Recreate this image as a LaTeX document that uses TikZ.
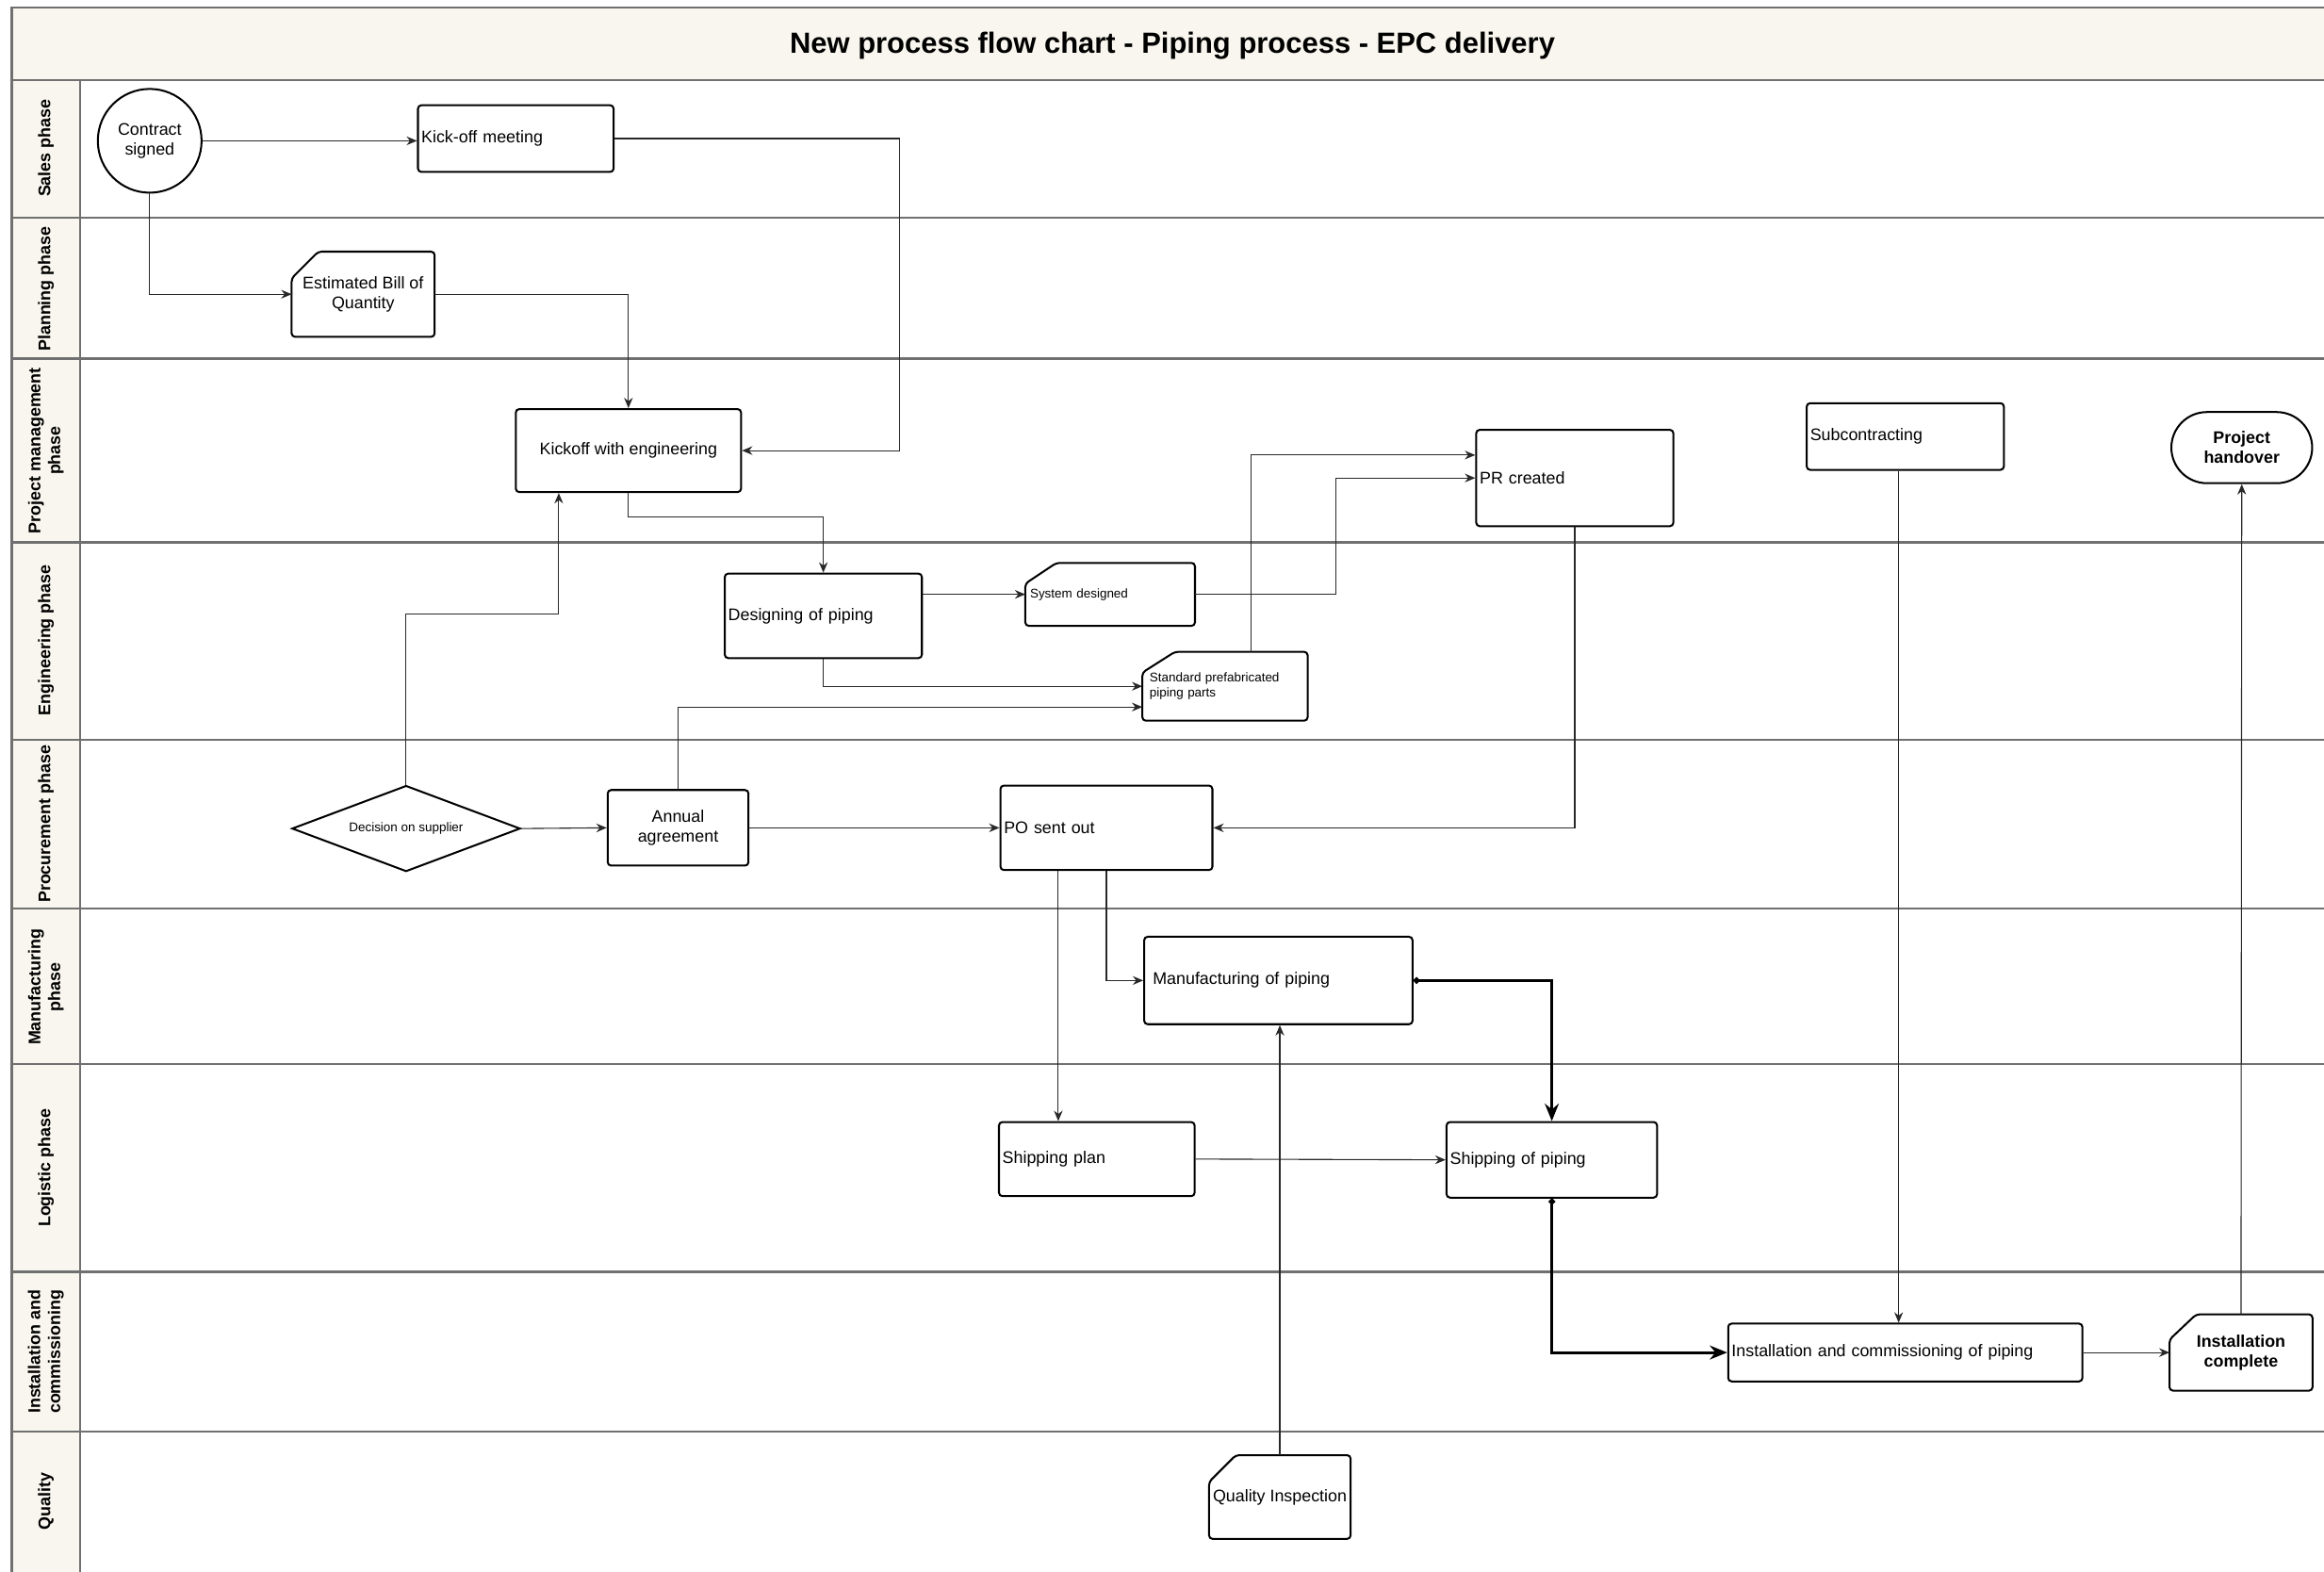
\documentclass[tikz,border=0pt]{standalone}
\usepackage{fontspec}
\setmainfont{Liberation Sans}
\usetikzlibrary{arrows.meta, shapes.geometric, positioning, calc}

\definecolor{lanefill}{RGB}{248,246,238}
\definecolor{laneline}{RGB}{112,112,112}
\definecolor{wire}{RGB}{40,40,40}

\begin{document}
\begin{tikzpicture}[x=0.03cm, y=-0.03cm,
    every node/.style={font=\fontsize{9.7}{11.5}\selectfont},
    small/.style={font=\fontsize{7.3}{8.6}\selectfont},
    heavy/.style={font=\bfseries\fontsize{9.7}{11.5}\selectfont},
    box/.style={draw, line width=1.1pt, rounded corners=2pt, inner xsep=2pt, inner ysep=0pt},
    lbox/.style={box, align=left},
    cbox/.style={box, align=center},
    card/.style={inner xsep=2pt, inner ysep=0pt},
    cardline/.style={line width=1.1pt, rounded corners=2pt},
    lane/.style={draw=laneline, line width=1.3pt},
    flow/.style={draw=wire, line width=0.6pt, -{Stealth[length=6pt, width=5pt]}},
    mainflow/.style={draw=black, line width=1.7pt, {Circle[length=3.5pt]}-{Stealth[length=10pt, width=8pt]}}
  ]
  \useasboundingbox (0,0) rectangle (1568,1060);
  \clip (0,0) rectangle (1568,1060);

  % pool, header and lanes
  \fill[lanefill] (8,5) rectangle (1575,54);
  \fill[lanefill] (8,54) rectangle (54,1063);
  \foreach \y in {54,147,242,366,499,613,718,858,966}
    \draw[lane] (8,\y) -- (1575,\y);
  \draw[lane] (54,54) -- (54,1063);
  \draw[lane] (8,5) rectangle (1575,1063);

  \node[font=\bfseries\fontsize{16.8}{20}\selectfont] (title) at (791,31) {New process flow chart - Piping process - EPC delivery};
  \foreach \y/\lbl in {100/Sales phase, 195/Planning phase, 304/{Project management\\phase}, 432/Engineering phase, 556/Procurement phase, 666/{Manufacturing\\phase}, 788/Logistic phase, 912/{Installation and\\commissioning}, 1013/Quality}
    \node[heavy, rotate=90, align=center] (lane\y) at (31,\y) {\lbl};

  % sales
  \node[circle, draw, line width=1.1pt, minimum size=2.1cm, align=center, inner sep=0pt] (cs) at (101,95) {Contract\\signed};
  \node[lbox, minimum width=3.96cm, minimum height=1.35cm, text width=3.82cm] (kom) at (348,93.5) {Kick-off meeting};

  % planning
  \node[card, minimum width=2.88cm, minimum height=1.71cm, align=center] (boq) at (245,198.5) {Estimated Bill of\\Quantity};

  % project management
  \node[cbox, minimum width=4.56cm, minimum height=1.68cm] (kwe) at (424,304) {Kickoff with engineering};
  \node[lbox, minimum width=3.99cm, minimum height=1.95cm, text width=3.85cm] (prc) at (1062.5,322.5) {PR created};
  \node[lbox, minimum width=3.99cm, minimum height=1.35cm, text width=3.85cm] (sub) at (1285.5,294.5) {Subcontracting};
  \node[box, heavy, rounded corners=0.72cm, minimum width=2.85cm, minimum height=1.44cm, align=center] (ph) at (1512.5,302) {Project\\handover};

  % engineering
  \node[lbox, minimum width=3.99cm, minimum height=1.71cm, text width=3.85cm] (dop) at (555.5,415.5) {Designing of piping};
  \node[card, small, inner xsep=2.5pt, minimum width=3.42cm, minimum height=1.26cm, text width=3.24cm, align=left] (sd) at (749,401) {System designed};
  \node[card, small, inner xsep=4pt, minimum width=3.33cm, minimum height=1.38cm, text width=3.05cm, align=left] (spp) at (826.5,463) {Standard prefabricated\\piping parts};

  % procurement
  \node[diamond, draw, line width=1.1pt, small, minimum width=4.62cm, minimum height=1.74cm, inner sep=0pt, shape aspect=2.65] (dos) at (274,559) {Decision on supplier};
  \node[cbox, minimum width=2.85cm, minimum height=1.53cm] (aa) at (457.5,558.5) {Annual\\agreement};
  \node[lbox, minimum width=4.29cm, minimum height=1.71cm, text width=4.15cm] (pos) at (746.5,558.5) {PO sent out};

  % manufacturing
  \node[lbox, inner xsep=5pt, minimum width=5.43cm, minimum height=1.77cm, text width=5.08cm] (mop) at (862.5,661.5) {Manufacturing of piping};

  % logistic
  \node[lbox, minimum width=3.96cm, minimum height=1.5cm, text width=3.82cm] (sp) at (740,782) {Shipping plan};
  \node[lbox, minimum width=4.26cm, minimum height=1.53cm, text width=4.12cm] (shp) at (1047,782.5) {Shipping of piping};

  % installation and commissioning
  \node[lbox, minimum width=7.17cm, minimum height=1.17cm, text width=7.03cm] (icp) at (1285.5,912.5) {Installation and commissioning of piping};
  \node[card, heavy, minimum width=2.88cm, minimum height=1.53cm, align=center] (ic) at (1512,912.5) {Installation\\complete};

  % quality
  \node[card, inner xsep=0.5pt, minimum width=2.85cm, minimum height=1.68cm] (qi) at (863.5,1010) {Quality Inspection};

  % card outlines with cut corner
  \foreach \n/\cx/\cy in {boq/18/18, sd/21/14, spp/22/14, ic/18/17, qi/18/18}
    \draw[cardline] ($(\n.north west)+(\cx,0)$) -- (\n.north east) -- (\n.south east) -- (\n.south west) -- ($(\n.north west)+(0,\cy)$) -- cycle;

  % connectors
  \coordinate (kwe1) at ($(kwe.south)+(-47,0)$);
  \coordinate (spp1) at ($(spp.west)+(0,14)$);
  \coordinate (spp2) at ($(spp.north)+(17.5,0)$);
  \coordinate (prc1) at ($(prc.west)+(0,-15.5)$);
  \coordinate (pos1) at ($(pos.south)+(-32.5,0)$);
  \coordinate (sub1) at ($(sub.south)+(-4.5,0)$);

  \draw[flow] (cs.east) -- (cs.east -| kom.west);
  \draw[flow] (cs.south) |- (boq.west);
  \draw[flow] (kom.east) -- ++(192,0) |- (kwe.east);
  \draw[flow] (boq.east) -| (kwe.north);
  \draw[flow] (kwe.south) -- ++(0,16) -| (dop.north);
  \draw[flow] (dos.north) -- ++(0,-115) -| (kwe1);
  \draw[flow] (dos.east) -- (aa.west);
  \draw[flow] (aa.north) |- (spp1);
  \draw[flow] (sd.west -| dop.east) -- (sd.west);
  \draw[flow] (dop.south) |- (spp.west);
  \draw[flow] (sd.east) -- ++(95,0) |- (prc.west);
  \draw[flow] (spp2) |- (prc1);
  \draw[flow] (prc.south) |- (pos.east);
  \draw[flow] (aa.east) -- (pos.west);
  \draw[flow] (pos1) -- (pos1 |- sp.north);
  \draw[flow] (pos.south) |- (mop.west);
  \draw[flow] (qi.north) -- (qi.north |- mop.south);
  \draw[flow] (sp.east) -- (shp.west);
  \draw[mainflow] (mop.east) -| (shp.north);
  \draw[mainflow] (shp.south) |- (icp.west);
  \draw[flow] (sub1) -- (sub1 |- icp.north);
  \draw[flow] (icp.east) -- (ic.west);
  \draw[flow] (ic.north) -- (ph.south);
\end{tikzpicture}
\end{document}
